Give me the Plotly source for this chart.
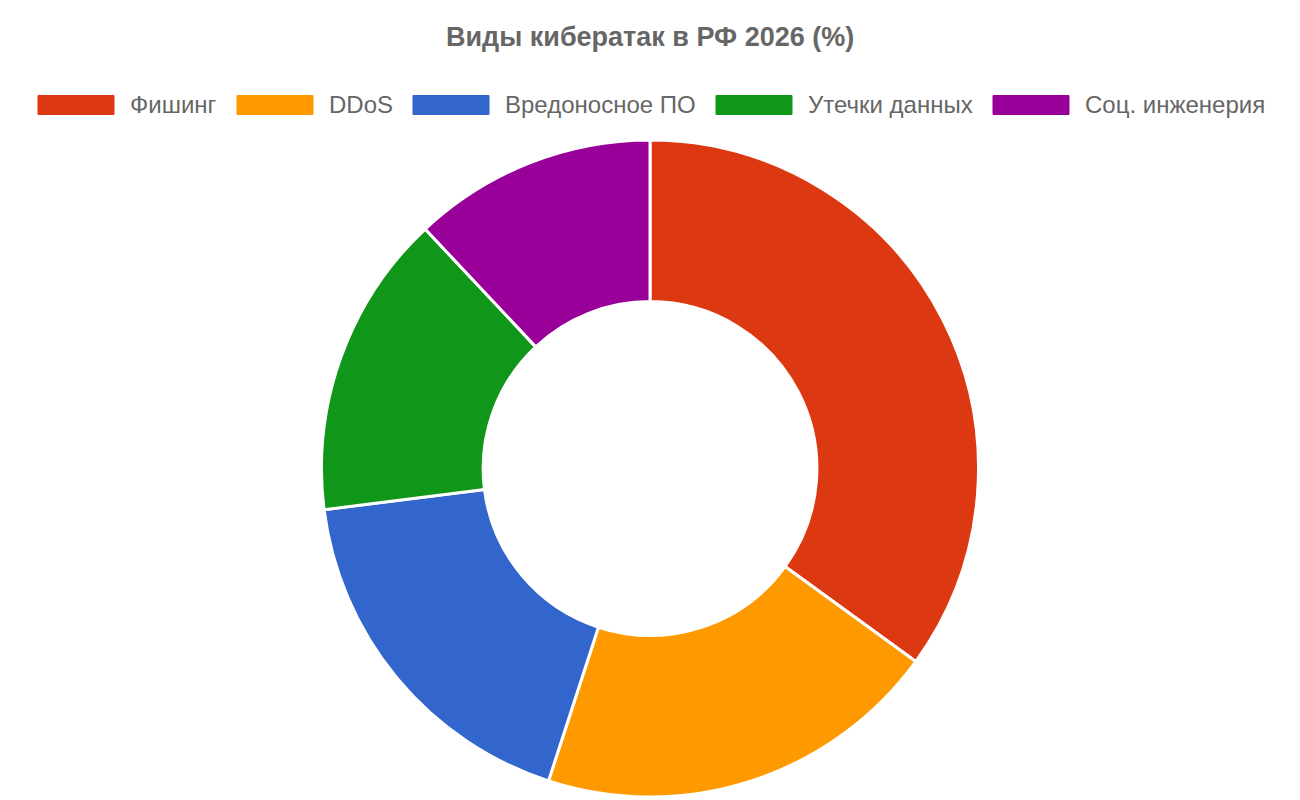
import plotly.graph_objects as go

categories = ["Фишинг", "DDoS", "Вредоносное ПО", "Утечки данных", "Соц. инженерия"]
values = [35, 20, 18, 15, 12]
colors = ["#DC3912", "#FF9900", "#3366CC", "#109618", "#990099"]
title_text = "Виды кибератак в РФ 2026 (%)"

W, H = 1300, 800
FONT = "Liberation Sans, Arial, sans-serif"

fig = go.Figure(go.Pie(
    labels=categories,
    values=values,
    marker=dict(colors=colors, line=dict(color="white", width=3)),
    hole=0.508,
    sort=False,
    direction="clockwise",
    rotation=0,
    textinfo="none",
    hovertemplate="%{label}: %{value}%<extra></extra>",
    domain=dict(x=[0, 1], y=[(H - 797) / H, (H - 140) / H]),
    showlegend=False,
))

# custom legend (Chart.js style wide swatches)
legend_x = [38, 237, 413, 716, 993]
box_w, box_h, gap = 76, 19, 14
ly = 105
shapes, annots = [], []
for cat, col, x0 in zip(categories, colors, legend_x):
    shapes.append(dict(type="rect", xref="paper", yref="paper",
                       x0=x0 / W, x1=(x0 + box_w) / W,
                       y0=(H - ly - box_h / 2) / H, y1=(H - ly + box_h / 2) / H,
                       fillcolor=col, line=dict(color=col, width=1), layer="above"))
    annots.append(dict(text=cat, xref="paper", yref="paper",
                       x=(x0 + box_w + gap) / W, y=(H - ly) / H,
                       xanchor="left", yanchor="middle", showarrow=False,
                       font=dict(family=FONT, size=24, color="#666666")))

annots.append(dict(text="<b>" + title_text + "</b>", xref="paper", yref="paper",
                   x=0.5, y=(H - 37) / H, xanchor="center", yanchor="middle",
                   showarrow=False, font=dict(family=FONT, size=27, color="#666666")))

fig.update_layout(
    width=W, height=H,
    margin=dict(l=0, r=0, t=0, b=0),
    paper_bgcolor="white",
    plot_bgcolor="white",
    shapes=shapes,
    annotations=annots,
)

fig.write_html("out.html")
